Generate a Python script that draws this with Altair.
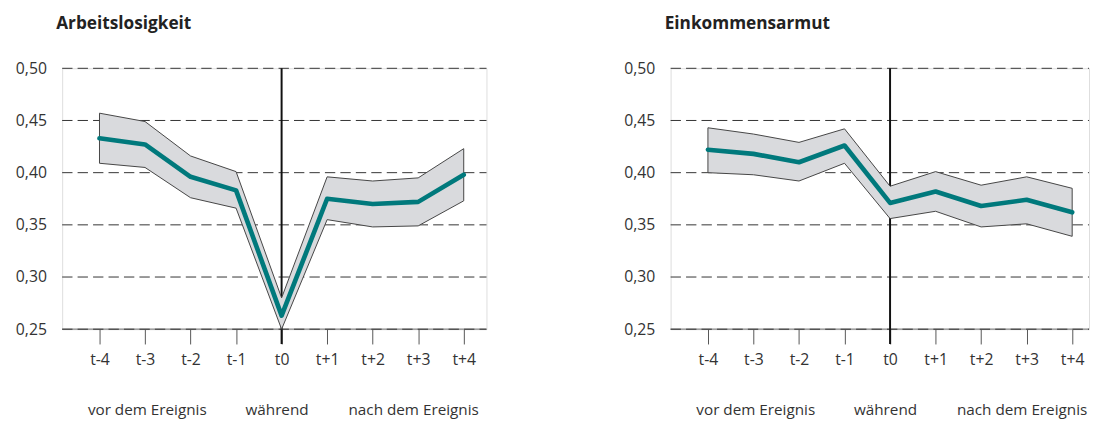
import altair as alt
import pandas as pd

# ---- data -------------------------------------------------------------
x_labels = ["t-4", "t-3", "t-2", "t-1", "t0", "t+1", "t+2", "t+3", "t+4"]
x_pos = [-4, -3, -2, -1, 0, 1, 2, 3, 4]

arb_mid = [0.433, 0.427, 0.396, 0.383, 0.263, 0.375, 0.370, 0.372, 0.398]
arb_hi = [0.457, 0.449, 0.416, 0.401, 0.280, 0.396, 0.392, 0.395, 0.423]
arb_lo = [0.409, 0.405, 0.376, 0.366, 0.250, 0.355, 0.348, 0.349, 0.373]

ein_mid = [0.422, 0.418, 0.410, 0.426, 0.371, 0.382, 0.368, 0.374, 0.362]
ein_hi = [0.443, 0.437, 0.429, 0.442, 0.387, 0.401, 0.388, 0.396, 0.385]
ein_lo = [0.400, 0.398, 0.392, 0.409, 0.356, 0.363, 0.348, 0.351, 0.339]

group_labels = ["vor dem Ereignis", "während", "nach dem Ereignis"]
group_pos = [-2.95, -0.1, 2.9]

y_ticks = [0.25, 0.30, 0.35, 0.40, 0.45, 0.50]
grid_vals = [0.25, 0.30, 0.35, 0.40, 0.45, 0.50]

# ---- style ------------------------------------------------------------
FONT = "Open Sans"
TEAL = "#00797C"
BAND = "#D9DADD"
TEXT = "#333333"
HEIGHT = 265

label_expr = "[" + ",".join("'%s'" % l for l in x_labels) + "][datum.value + 4]"


def panel(title, mid, lo, hi, width, xdom):
    df = pd.DataFrame({"x": x_pos, "mid": mid, "lo": lo, "hi": hi})
    xs = alt.Scale(domain=xdom, nice=False, zero=False)
    ys = alt.Scale(domain=[0.25, 0.50], nice=False, zero=False)
    xaxis = alt.Axis(values=x_pos, labelExpr=label_expr, title=None, domain=False,
                     grid=False, tickSize=15, tickColor="#555555", tickWidth=1,
                     labelFontSize=16, labelColor=TEXT, labelPadding=8, labelFont=FONT)
    yaxis = alt.Axis(values=y_ticks, labelExpr="replace(format(datum.value, '.2f'), '.', ',')",
                     title=None, domain=False, grid=False, ticks=False,
                     labelFontSize=16, labelColor=TEXT, labelPadding=16, labelFont=FONT)

    base_rule = alt.Chart(pd.DataFrame({"v": [0.25]})).mark_rule(
        color="#888888", strokeWidth=1.2
    ).encode(y=alt.Y("v:Q", scale=ys, axis=yaxis), x=alt.value(0), x2=alt.value(width))

    grid = alt.Chart(pd.DataFrame({"v": grid_vals})).mark_rule(
        color="#333333", strokeWidth=1, strokeDash=[10.5, 5.2]
    ).encode(y=alt.Y("v:Q", scale=ys, axis=yaxis), x=alt.value(0), x2=alt.value(width))

    vrule = alt.Chart(pd.DataFrame({"x": [0]})).mark_rule(
        color="#111111", strokeWidth=2
    ).encode(x=alt.X("x:Q", scale=xs, axis=xaxis), y=alt.value(0), y2=alt.value(HEIGHT + 15))

    band = alt.Chart(df).mark_area(
        fill=BAND, fillOpacity=1, stroke="#444444", strokeWidth=1
    ).encode(x=alt.X("x:Q", scale=xs, axis=xaxis),
             y=alt.Y("lo:Q", scale=ys, axis=yaxis), y2="hi:Q")

    line = alt.Chart(df).mark_line(
        color=TEAL, strokeWidth=4.7, strokeCap="round", strokeJoin="round"
    ).encode(x=alt.X("x:Q", scale=xs, axis=xaxis), y=alt.Y("mid:Q", scale=ys, axis=yaxis))

    text = alt.Chart(pd.DataFrame({"x": group_pos, "t": group_labels})).mark_text(
        fontSize=15.5, color=TEXT, baseline="middle", align="center", font=FONT
    ).encode(x=alt.X("x:Q", scale=xs, axis=xaxis), y=alt.value(HEIGHT + 82), text="t:N")

    return alt.layer(base_rule, grid, vrule, band, line, text).properties(
        width=width, height=HEIGHT,
        title=alt.TitleParams(title, anchor="start", frame="group", dx=-6, fontSize=17.5,
                              fontWeight="bold", font=FONT, color="#222222",
                              baseline="alphabetic", offset=14),
    )


left = panel("Arbeitslosigkeit", arb_mid, arb_lo, arb_hi, 431, [-4.82, 4.5])
right = panel("Einkommensarmut", ein_mid, ein_lo, ein_hi, 425, [-4.82, 4.37])

chart = alt.hconcat(left, right, spacing=136).properties(
    padding={"left": 6, "top": 4, "right": 0, "bottom": 0}
).configure_view(stroke=None).configure(font=FONT)

chart.save("out.html", embed_options={"renderer": "svg", "actions": False})
